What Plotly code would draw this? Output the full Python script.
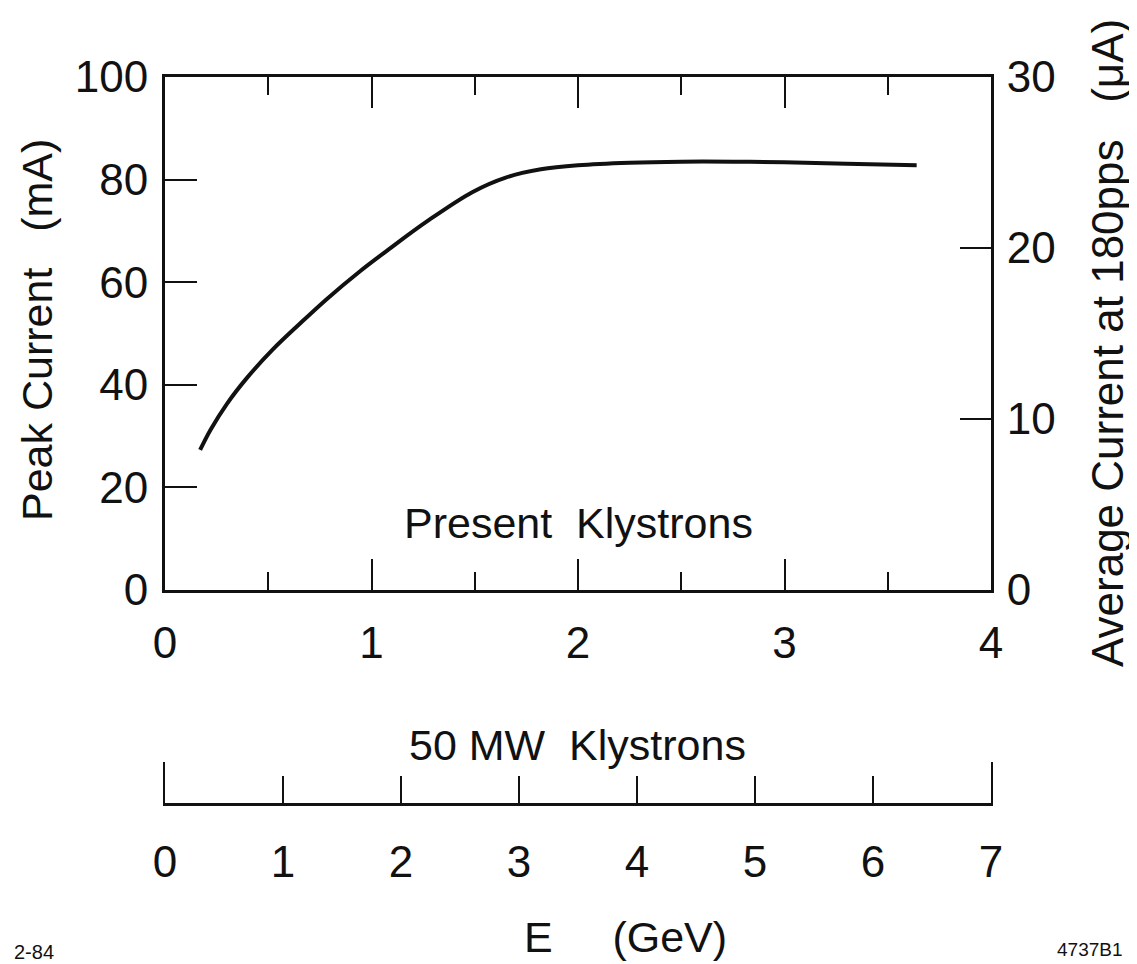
import plotly.graph_objects as go

# ---- data ----
energy_present = [0.17, 0.22, 0.30, 0.40, 0.52, 0.65, 0.78, 0.94, 1.08, 1.27, 1.49, 1.65,
                  1.82, 2.0, 2.25, 2.5, 2.75, 3.0, 3.3, 3.64]
peak_current = [27.3, 31.2, 36.3, 41.5, 46.8, 51.8, 56.6, 62.0, 66.3, 71.9, 77.6, 80.4,
                82.0, 82.8, 83.3, 83.5, 83.5, 83.4, 83.1, 82.8]

x_major = [0, 1, 2, 3, 4]
x_minor = [0.5, 1.5, 2.5, 3.5]
y_left_ticks = [0, 20, 40, 60, 80, 100]
y_right_ticks = [0, 10, 20, 30]
x50_ticks = [0, 1, 2, 3, 4, 5, 6, 7]

FONT = "Liberation Sans"
INK = "#111111"

OFF = 8  # page body margin of the html page
W, H = 1137 - OFF, 964 - OFF
L = 165 - OFF
R = W - (991 - OFF)
T = 77 - OFF
B = H - (803 - OFF)
PH = H - T - B
PW = W - L - R


def px(X):
    return (X - OFF - L) / PW


def py(Y):
    return (H - B - (Y - OFF)) / PH


main_bottom = (803 - 590) / PH
end_tick_h = 41 / PH


def helper(xa, ya):
    return go.Scatter(x=[0], y=[0], mode="markers", marker=dict(opacity=0),
                      xaxis=xa, yaxis=ya, showlegend=False, hoverinfo="skip")


fig = go.Figure()
fig.add_trace(go.Scatter(x=energy_present, y=peak_current, mode="lines",
                         line=dict(color=INK, width=4, shape="spline", smoothing=1.0),
                         xaxis="x", yaxis="y", showlegend=False, hoverinfo="skip"))
fig.add_trace(helper("x", "y2"))
fig.add_trace(helper("x3", "y"))
fig.add_trace(helper("x2", "y3"))
fig.add_trace(helper("x2", "y4"))

tickfont = dict(family=FONT, size=44, color=INK)

fig.update_layout(
    width=W, height=H,
    margin=dict(l=L, r=R, t=T, b=B, pad=0),
    paper_bgcolor="white", plot_bgcolor="white",
    font=dict(family=FONT, color=INK),
    xaxis=dict(domain=[0, 1], range=[0, 4], anchor="y",
               tickmode="array", tickvals=x_major, ticktext=[str(v) for v in x_major],
               ticks="inside", ticklen=31, tickwidth=2, tickcolor=INK,
               minor=dict(tickvals=x_minor, ticks="inside", ticklen=18, tickwidth=2,
                          tickcolor=INK, showgrid=False),
               showline=True, linewidth=3, linecolor=INK,
               showgrid=False, zeroline=False, tickfont=tickfont,
               ticklabelstandoff=12),
    xaxis3=dict(overlaying="x", side="top", anchor="y", range=[0, 4],
                tickmode="array", tickvals=x_major,
                ticks="inside", ticklen=31, tickwidth=2, tickcolor=INK,
                minor=dict(tickvals=x_minor, ticks="inside", ticklen=18, tickwidth=2,
                           tickcolor=INK, showgrid=False),
                showline=True, linewidth=3, linecolor=INK,
                showgrid=False, zeroline=False, showticklabels=False),
    yaxis=dict(domain=[main_bottom, 1], range=[0, 100], anchor="x",
               tickmode="array", tickvals=y_left_ticks,
               ticks="inside", ticklen=32, tickwidth=2, tickcolor=INK,
               showline=True, linewidth=3, linecolor=INK,
               showgrid=False, zeroline=False, tickfont=tickfont,
               ticklabelstandoff=5),
    yaxis2=dict(overlaying="y", side="right", anchor="x", range=[0, 30],
                tickmode="array", tickvals=y_right_ticks,
                ticks="inside", ticklen=31, tickwidth=2, tickcolor=INK,
                showline=True, linewidth=3, linecolor=INK,
                showgrid=False, zeroline=False, tickfont=tickfont,
                ticklabelstandoff=4),
    # small helper axes: their lines form the end marks of the 50 MW scale
    yaxis3=dict(domain=[0, end_tick_h], range=[0, 1], anchor="x2", side="left",
                showline=True, linewidth=2, linecolor=INK, ticks="",
                showticklabels=False, showgrid=False, zeroline=False),
    yaxis4=dict(overlaying="y3", range=[0, 1], anchor="x2", side="right",
                showline=True, linewidth=2, linecolor=INK, ticks="",
                showticklabels=False, showgrid=False, zeroline=False),
    xaxis2=dict(anchor="y3", range=[0, 7],
                tickmode="array", tickvals=x50_ticks,
                ticks="inside", ticklen=27, tickwidth=2, tickcolor=INK,
                showline=True, linewidth=3, linecolor=INK,
                showgrid=False, zeroline=False, tickfont=tickfont,
                ticklabelstandoff=18),
    showlegend=False,
)

ann_font = dict(family=FONT, size=43, color=INK)


def ann(text, X, Y, size=43, angle=0):
    fig.add_annotation(text=text, x=px(X), y=py(Y), xref="paper", yref="paper",
                       xanchor="center", yanchor="middle", textangle=angle,
                       showarrow=False, font=dict(family=FONT, size=size, color=INK))


fig.add_annotation(text="Present  Klystrons", x=2.0, y=13.1, xref="x", yref="y",
                   xanchor="center", yanchor="middle",
                   showarrow=False, font=ann_font)
ann("50 MW  Klystrons", 577, 745)
ann("E     (GeV)", 625, 937)
ann("Peak Current   (mA)", 37, 330, angle=-90)
ann("Average Current at 180pps   (μA)", 1107, 343, size=44, angle=-90)
ann("2-84", 34, 952, size=20)
ann("4737B1", 1090, 949, size=19)

fig.write_html("out.html")
